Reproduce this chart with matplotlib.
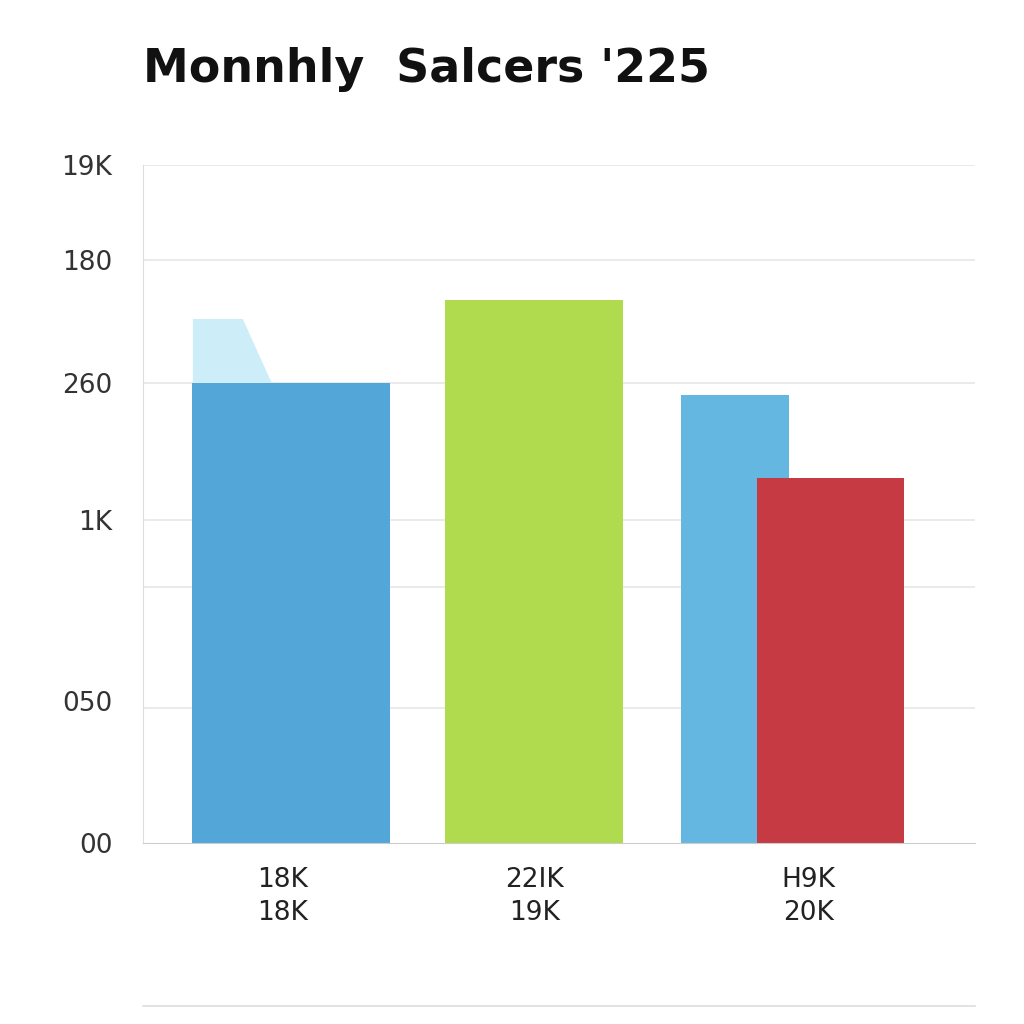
import matplotlib
matplotlib.use("Agg")
import matplotlib.pyplot as plt
from matplotlib.patches import Polygon

title = "Monnhly  Salcers '225"
ytick_pos = [0, 21, 47.6, 67.8, 86, 100]
ytick_labels = ["00", "050", "1K", "260", "180", "19K"]
grid_pos = [19.9, 37.8, 47.6, 67.8, 86, 100]
bar_x = [0.178, 0.470, 0.712, 0.826]
bar_h = [67.8, 80.1, 66.1, 53.8]
bar_w = [0.237, 0.214, 0.130, 0.177]
bar_c = ["#52a7d8", "#b0db4e", "#64b7e0", "#c53a43"]
cat_x = [0.168, 0.471, 0.80]
cat_labels = ["18K\n18K", "22IK\n19K", "H9K\n20K"]

fig = plt.figure(figsize=(10.24, 10.24), dpi=100)
ax = fig.add_axes([0.1396, 0.1768, 0.8125, 0.662])
ax.set_xlim(0, 1)
ax.set_ylim(0, 100)
for g in grid_pos:
    ax.axhline(g, color="#e6e6e6", lw=1.2, zorder=0)
# ghost shape behind first bar
ax.add_patch(Polygon([(0.06, 67.8), (0.06, 77.3), (0.12, 77.3), (0.155, 67.8)],
                     closed=True, color="#cdeef8", zorder=1, lw=0))
ax.bar(bar_x, bar_h, width=bar_w, color=bar_c, zorder=2)
ax.set_yticks(ytick_pos)
ax.set_yticklabels(ytick_labels, fontsize=19, color="#333333")
ax.set_xticks([])
ax.tick_params(axis="y", length=0, pad=22)
for s in ["top", "right"]:
    ax.spines[s].set_visible(False)
ax.spines["left"].set_color("#dddddd")
ax.spines["bottom"].set_color("#cccccc")
for x, l in zip(cat_x, cat_labels):
    ax.text(x, -3.5, l, ha="center", va="top", fontsize=19, color="#222222", linespacing=1.35)
fig.text(0.14, 0.932, title, fontsize=33, fontweight="bold", color="#111111", va="center")
fig.add_artist(plt.Line2D([0.14, 0.952], [0.018, 0.018], color="#dddddd", lw=1.2))
fig.savefig("out.png", dpi=100, facecolor="white")
